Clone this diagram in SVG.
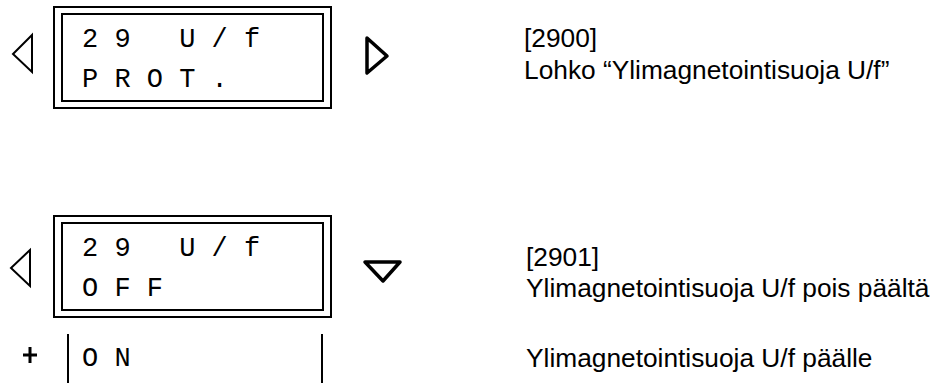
<svg xmlns="http://www.w3.org/2000/svg" width="936" height="383" viewBox="0 0 936 383">
<style>
.frame{fill:none;stroke:#000;stroke-width:2}
.tri{fill:none;stroke:#000;stroke-width:2;stroke-linejoin:miter}
.tri2{fill:none;stroke:#000;stroke-width:3.5;stroke-linejoin:round;stroke-linecap:round}
.lcd{font-family:"Liberation Mono",monospace;font-size:27px;fill:#000}
.desc{font-family:"Liberation Sans",Arial,sans-serif;font-size:26.3px;fill:#000}
.ln{stroke:#000;stroke-width:2}
.plus{stroke:#000;stroke-width:3}
</style>
<rect width="936" height="383" fill="#fff"/>
<g id="display-2900">
<rect class="frame" x="54" y="7" width="277" height="101"/>
<rect class="frame" x="62" y="14" width="261" height="87"/>
<text class="lcd" x="82" y="47" xml:space="preserve">2 9   U / f</text>
<text class="lcd" x="82" y="87" xml:space="preserve">P R O T .</text>
</g>
<g id="nav-left-1"><polygon class="tri" points="32,35 13,54 32,72"/></g>
<g id="nav-right-1"><polygon class="tri2" points="367,38 387,56 367,73"/></g>
<g id="desc-2900">
<text class="desc" x="524" y="47">[2900]</text>
<text class="desc" x="524" y="79">Lohko “Ylimagnetointisuoja U/f”</text>
</g>
<g id="display-2901">
<rect class="frame" x="54" y="216" width="277" height="101"/>
<rect class="frame" x="62" y="223" width="261" height="87"/>
<text class="lcd" x="82" y="256" xml:space="preserve">2 9   U / f</text>
<text class="lcd" x="82" y="296" xml:space="preserve">O F F</text>
</g>
<g id="nav-left-2"><polygon class="tri" points="30,250 11,268 30,286"/></g>
<g id="nav-down-2"><polygon class="tri2" points="365,262 400,262 383,281"/></g>
<g id="desc-2901">
<text class="desc" x="526" y="266">[2901]</text>
<text class="desc" x="526" y="297">Ylimagnetointisuoja U/f pois päältä</text>
</g>
<g id="option-on">
<line class="plus" x1="23" y1="355" x2="37" y2="355"/>
<line class="plus" x1="30" y1="347" x2="30" y2="363"/>
<line class="ln" x1="68" y1="334" x2="68" y2="383"/>
<line class="ln" x1="322" y1="334" x2="322" y2="383"/>
<text class="lcd" x="82" y="366" xml:space="preserve">O N</text>
<text class="desc" x="526" y="367">Ylimagnetointisuoja U/f päälle</text>
</g>
</svg>
